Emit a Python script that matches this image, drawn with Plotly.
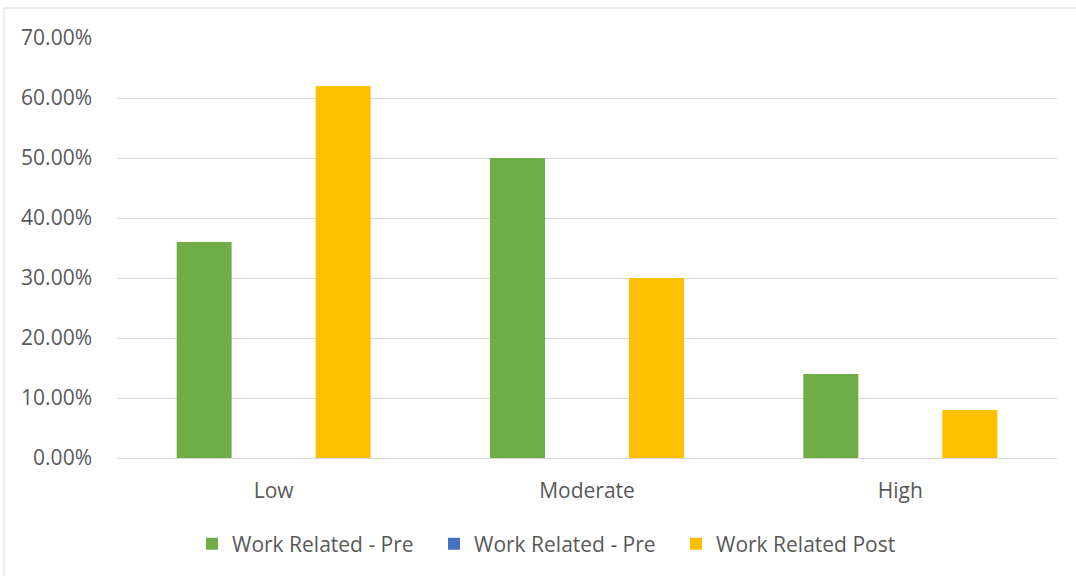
import plotly.graph_objects as go

# Share of respondents per level, before and after
categories = ["Low", "Moderate", "High"]
pre_values = [0.36, 0.50, 0.14]
pre_alt_values = [0.0, 0.0, 0.0]
post_values = [0.62, 0.30, 0.08]
series_names = ["Work Related - Pre", "Work Related - Pre", "Work Related Post"]
series_colors = ["#70AD47", "#4472C4", "#FFC000"]

W, H = 1076, 576
L, R, T, B = 117, 19, 38, 118
plot_w = W - L - R
plot_h = H - T - B

fig = go.Figure()
for name, vals, color in zip(series_names, [pre_values, pre_alt_values, post_values], series_colors):
    fig.add_trace(go.Bar(
        x=categories, y=vals, name=name,
        marker=dict(color=color, line=dict(width=0)),
        hoverinfo="x+y+name",
    ))

text_color = "#595959"
font_family = "Open Sans"
fs = 21

fig.update_layout(
    width=W, height=H,
    margin=dict(l=L, r=R, t=T, b=B, pad=0),
    paper_bgcolor="white", plot_bgcolor="white",
    barmode="group", bargap=0.3345, bargroupgap=0.209,
    font=dict(family=font_family, color=text_color, size=fs),
    showlegend=True,
    legend=dict(
        orientation="h", x=(192 - L) / plot_w, xanchor="left",
        y=(plot_h - (544 - T)) / plot_h, yanchor="middle",
        font=dict(size=fs, color=text_color),
        itemwidth=30, traceorder="normal",
        entrywidth=197, entrywidthmode="pixels",
    ),
    xaxis=dict(
        showgrid=False, showline=False, zeroline=False,
        ticks="", tickfont=dict(size=fs, color=text_color),
        ticklabelstandoff=18,
    ),
    yaxis=dict(
        range=[0, 0.70], dtick=0.1, tickformat=".2%",
        showgrid=True, gridcolor="#D9D9D9", gridwidth=1,
        zeroline=True, zerolinecolor="#D9D9D9", zerolinewidth=1,
        showline=False, ticks="",
        tickfont=dict(size=fs, color=text_color),
        ticklabelstandoff=24,
    ),
    shapes=[dict(
        type="rect", xref="paper", yref="paper",
        x0=(4 - L) / plot_w, x1=(W + 10 - L) / plot_w,
        y0=(plot_h - (H + 10 - T)) / plot_h, y1=(plot_h - (8 - T)) / plot_h,
        line=dict(color="#D9D9D9", width=1), fillcolor="rgba(0,0,0,0)",
        layer="below",
    )],
)

fig.write_html("out.html")
